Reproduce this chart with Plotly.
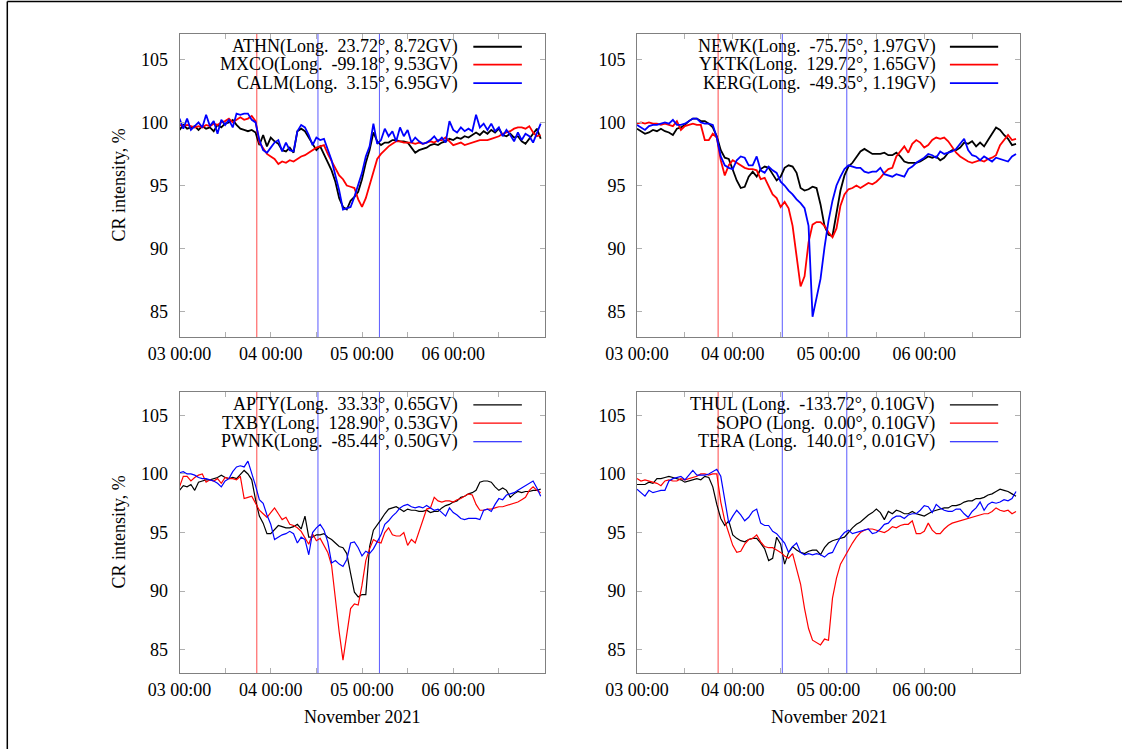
import pandas as pd
import plotly.graph_objects as go

# ---------------- data (hourly, 2021-11-03 00:00 ... 2021-11-06 23:00) ----------------
times = pd.date_range("2021-11-03 00:00", periods=96, freq="h")

athn = [99.4, 99.8, 99.5, 99.6, 99.7, 99.4, 99.7, 99.5, 99.6, 99.3, 99.8, 99.6,
        99.9, 100.0, 100.2, 99.8, 99.5, 99.4, 99.3, 99.4, 99.2, 98.2, 99.0, 98.1,
        98.8, 98.5, 98.3, 97.8, 97.7, 98.0, 97.6, 99.3, 99.5, 99.3, 98.8, 98.4,
        97.8, 98.1, 97.5, 96.9, 96.2, 95.3, 94.0, 93.3, 93.1, 93.8, 94.1, 94.5,
        95.5, 96.8, 97.8, 99.2, 98.5, 98.2, 98.4, 98.4, 98.6, 98.6, 98.5, 98.5,
        98.4, 98.0, 97.6, 97.8, 97.9, 98.0, 98.2, 98.3, 98.2, 98.4, 98.5, 98.7,
        98.6, 98.8, 98.7, 98.9, 98.8, 99.0, 99.2, 99.0, 99.3, 99.1, 99.4, 99.2,
        99.5, 99.0, 98.9, 99.1, 98.8, 98.9, 98.5, 98.3, 98.7, 99.1, 99.5, 98.7]
mxco = [99.8, 99.7, 99.8, 99.7, 99.6, 99.7, 99.6, 99.8, 99.7, 99.9, 99.8, 100.0,
        100.1, 100.3, 100.0, 100.2, 100.4, 100.2, 100.3, 100.5, 100.1, 98.4, 97.9, 97.5,
        97.3, 97.1, 96.7, 96.9, 96.8, 97.0, 96.9, 97.1, 97.3, 97.4, 97.6, 97.8,
        98.0, 98.1, 98.2, 97.5, 96.9, 96.3, 95.8, 95.5, 95.0, 94.9, 94.8, 93.9,
        93.3, 94.0, 95.1, 96.2, 97.1, 97.5, 97.8, 98.1, 98.3, 98.5, 98.5, 98.4,
        98.4, 98.4, 98.3, 98.4, 98.3, 98.4, 98.5, 98.4, 98.6, 98.6, 98.8, 98.5,
        98.2, 98.3, 98.4, 98.2, 98.3, 98.4, 98.5, 98.6, 98.6, 98.6, 98.7, 98.8,
        98.9, 99.1, 99.2, 99.3, 99.5, 99.6, 99.6, 99.5, 99.7, 99.2, 98.9, 99.0]
calm = [100.3, 99.5, 100.3, 99.4, 99.7, 100.0, 99.6, 100.6, 99.7, 100.1, 99.1, 100.2,
        99.8, 100.2, 99.6, 100.7, 100.6, 100.7, 100.7, 100.2, 100.0, 98.6, 97.8, 97.6,
        98.0, 98.4, 98.6, 97.7, 98.4, 97.8, 97.7, 99.3, 99.8, 99.6, 99.0, 98.2,
        98.8, 98.6, 98.7, 97.9, 97.0, 95.8, 94.6, 93.1, 93.2, 93.3, 94.1, 95.0,
        96.0, 97.3, 98.1, 99.9, 98.3, 98.6, 99.5, 98.9, 99.3, 98.5, 99.6, 98.9,
        99.4, 98.4, 98.8, 98.5, 98.3, 98.4, 98.6, 98.9, 98.5, 98.8, 98.4, 100.1,
        99.4, 99.2, 99.6, 99.3, 99.5, 99.3, 100.6, 99.6, 99.9, 99.4, 99.9, 99.3,
        99.6, 98.9, 99.4, 99.0, 98.5, 99.2, 98.6, 99.1, 98.9, 98.4, 99.1, 99.9]

newk = [99.5, 99.3, 99.1, 99.2, 99.4, 99.3, 99.5, 99.3, 99.2, 99.0, 99.5, 99.6,
        99.8, 100.1, 100.3, 100.3, 100.1, 100.1, 99.9, 99.6, 98.9, 97.8, 97.2, 97.1,
        96.3, 95.4, 94.8, 94.9, 95.7, 96.1, 95.7, 96.3, 96.5, 96.4, 95.9, 95.4,
        95.7, 96.4, 96.6, 96.5, 96.0, 94.8, 94.6, 94.7, 94.9, 94.8, 93.5, 91.8,
        91.1, 91.0, 92.8, 94.6, 95.8, 96.5, 96.8, 97.3, 97.7, 97.9, 97.7, 97.5,
        97.5, 97.5, 97.6, 97.4, 97.4, 97.6, 97.3, 96.9, 96.8, 96.8, 96.8, 96.9,
        97.1, 97.3, 97.2, 97.3, 97.0, 97.2, 97.6, 97.8, 97.8, 98.0, 98.4, 98.3,
        98.5, 98.1, 98.4, 98.1, 98.6, 99.1, 99.6, 99.4, 99.0, 98.7, 98.2, 98.3]
yktk = [99.9, 100.0, 99.9, 100.0, 99.9, 99.9, 99.8, 99.9, 99.8, 99.7, 100.1, 99.4,
        99.7, 99.8, 99.9, 99.8, 99.8, 98.6, 98.6, 99.1, 98.8, 97.0, 95.8, 96.6,
        97.0, 96.8, 96.6, 96.4, 96.3, 96.3, 96.2, 95.5, 95.6, 94.9, 94.3, 94.0,
        93.3, 93.7, 93.2, 91.8, 89.5, 87.0, 87.8, 90.5, 91.9, 92.1, 92.1, 91.8,
        91.3, 90.9, 91.6, 93.4, 94.3, 94.7, 94.8, 95.0, 94.8, 95.0, 95.2, 95.1,
        95.3, 95.6, 96.0, 96.3, 96.4, 97.3, 97.7, 98.1, 97.6, 98.3, 98.6, 98.4,
        98.0, 98.2, 98.6, 98.8, 98.7, 98.8, 98.5, 98.0, 97.6, 97.3, 97.1, 96.9,
        96.8, 96.9, 97.0, 96.9, 97.1, 97.2, 97.4, 98.2, 98.6, 99.0, 98.6, 98.7]
kerg = [99.8, 99.6, 99.4, 99.7, 99.8, 99.8, 99.9, 100.0, 99.9, 100.2, 99.8, 99.8,
        99.9, 100.1, 100.3, 100.3, 100.0, 99.9, 99.9, 99.8, 98.8, 97.3, 96.6, 96.4,
        96.3, 97.0, 97.3, 97.2, 96.6, 96.6, 97.3, 96.2, 96.0, 96.5, 96.2, 96.0,
        95.3, 95.0, 94.6, 94.3, 93.9, 93.6, 93.2, 91.8, 84.6, 86.1, 87.6, 90.1,
        92.2, 93.8, 95.0, 95.7, 96.3, 96.6, 96.5, 96.4, 96.4, 96.1, 96.0, 96.1,
        96.1, 96.4, 95.9, 95.8, 95.7, 95.9, 95.8, 95.7, 96.3, 96.5, 96.8, 97.0,
        97.2, 97.5, 97.4, 97.2, 97.7, 97.5, 97.6, 97.7, 97.9, 98.3, 98.7, 97.8,
        97.4, 97.3, 97.0, 97.3, 97.1, 96.9, 97.2, 97.1, 97.0, 96.9, 97.3, 97.5]

apty = [98.6, 99.0, 98.9, 99.1, 98.6, 99.3, 99.4, 99.5, 99.5, 99.6, 99.7, 99.9,
        99.7, 99.6, 99.7, 99.6, 100.0, 100.3, 100.0, 99.5, 97.8, 96.4, 95.8, 94.9,
        94.9, 95.3, 95.6, 95.5, 95.4, 95.4, 95.5, 95.7, 95.3, 96.4, 94.6, 94.6,
        94.8, 94.8, 94.9, 94.6, 94.4, 94.1, 93.8, 93.7, 93.2, 91.5, 89.9, 89.5,
        89.7, 89.7, 93.8, 95.2, 95.6, 96.1, 96.6, 97.0, 97.1, 97.2, 97.0, 96.8,
        97.0, 96.9, 96.9, 96.8, 96.8, 96.9, 96.7, 96.8, 96.8, 97.1, 97.3, 97.4,
        97.6, 97.7, 98.0, 98.1, 98.3, 98.4, 98.6, 99.3, 99.4, 99.4, 99.3, 98.9,
        98.6, 98.8, 98.6, 98.0, 98.3, 98.5, 98.4, 98.5, 98.5, 98.6, 98.6, 98.7]
txby = [98.9, 99.8, 99.8, 99.4, 99.7, 99.9, 100.0, 99.3, 99.5, 99.4, 99.6, 99.2,
        99.7, 99.6, 99.6, 99.5, 99.8, 97.9, 98.0, 98.1, 97.5, 96.9, 96.6, 96.3,
        96.7, 97.1, 96.6, 96.1, 96.3, 95.7, 95.6, 95.4, 95.1, 94.5, 94.0, 94.9,
        94.3, 94.5, 93.9, 93.3, 92.2, 89.3, 86.5, 84.1, 86.5, 88.5, 88.9, 88.8,
        90.5, 92.6, 93.6, 94.4, 94.2, 94.1, 95.0, 95.4, 94.8, 94.7, 94.7, 95.0,
        93.9, 94.4, 94.1, 95.1, 96.0, 97.0, 97.1, 98.0, 97.7, 97.6, 97.7, 97.7,
        97.6, 97.8, 97.9, 98.1, 98.3, 98.2, 97.4, 96.9, 96.9, 97.0, 97.0, 97.1,
        97.2, 97.2, 97.3, 97.4, 97.5, 97.6, 97.8, 98.0, 98.6, 98.9, 98.6, 98.4]
pwnk = [100.1, 100.2, 100.0, 100.0, 99.9, 99.7, 99.6, 99.6, 99.5, 99.4, 99.2, 98.9,
        99.4, 99.6, 100.2, 100.6, 100.7, 100.6, 101.1, 100.1, 99.0, 97.8, 97.5, 96.5,
        95.7, 94.4, 94.6, 94.8, 94.9, 95.1, 94.9, 94.1, 94.6, 94.4, 93.1, 95.0,
        95.4, 95.7, 95.2, 94.2, 92.4, 92.6, 92.3, 92.1, 92.7, 94.1, 94.2, 93.7,
        93.0, 93.4, 93.2, 93.6, 94.2, 94.8, 95.7, 96.0, 96.4, 96.7, 97.1, 97.3,
        97.4, 97.2, 97.1, 97.2, 97.1, 97.3, 97.1, 96.9, 97.0, 96.7, 96.4, 97.1,
        96.7, 96.5, 96.2, 96.1, 96.2, 96.2, 96.2, 96.1, 96.9, 97.0, 96.8, 97.4,
        97.9, 97.8, 98.2, 98.3, 98.4, 98.6, 98.8, 99.0, 99.2, 99.4, 98.8, 98.1]

thul = [99.1, 99.1, 99.1, 99.3, 99.2, 99.6, 99.6, 99.7, 99.8, 99.7, 99.6, 99.5,
        99.3, 99.4, 99.5, 99.6, 99.5, 99.8, 99.7, 98.9, 97.4, 96.2, 95.6, 96.0,
        94.8, 94.5, 94.3, 94.2, 94.4, 94.5, 94.5, 94.1, 93.6, 92.6, 92.8, 94.6,
        94.0, 92.3, 93.3, 93.8, 93.5, 93.3, 93.2, 93.4, 93.5, 93.5, 93.1, 93.7,
        94.1, 94.3, 94.4, 94.5, 94.6, 95.0, 95.4, 95.7, 95.9, 96.2, 96.5, 96.7,
        97.0, 96.7, 96.1, 96.8, 96.6, 96.9, 96.8, 96.6, 96.6, 96.8, 96.6, 96.5,
        96.4, 96.6, 96.8, 96.9, 97.0, 97.1, 97.1, 97.3, 97.3, 97.4, 97.6, 97.7,
        97.7, 97.9, 97.9, 98.0, 98.2, 98.3, 98.5, 98.7, 98.6, 98.5, 98.3, 98.1]
sopo = [99.6, 99.4, 99.5, 99.4, 99.3, 99.2, 99.0, 99.4, 99.5, 99.4, 99.4, 99.6,
        99.5, 99.6, 99.7, 99.8, 100.0, 100.0, 99.9, 100.0, 100.0, 97.6, 96.0, 94.9,
        93.9, 93.3, 93.4, 94.0, 94.4, 94.5, 94.8, 94.2, 93.8, 93.7, 93.7, 93.5,
        93.3, 93.0, 92.8, 93.2, 92.0, 90.6, 88.5, 86.8, 85.8, 85.6, 85.4, 85.9,
        85.8, 89.4, 91.1, 92.3, 92.9, 93.6, 94.1, 94.6, 95.0, 95.2, 95.3, 95.3,
        95.2, 95.1, 95.0, 95.2, 95.5, 95.4, 95.6, 95.7, 95.7, 96.0, 94.9, 94.9,
        95.1, 95.8, 95.2, 94.9, 94.9, 95.3, 95.6, 95.8, 95.9, 96.0, 96.1, 96.2,
        96.3, 96.4, 96.5, 96.6, 96.6, 96.8, 97.1, 96.9, 96.8, 96.9, 96.6, 96.8]
tera = [98.7, 98.4, 98.1, 98.6, 98.4, 98.5, 98.6, 98.6, 99.4, 99.6, 99.7, 99.8,
        99.5, 99.9, 100.3, 99.9, 99.9, 99.9, 100.0, 100.2, 100.4, 99.8, 97.9, 95.8,
        96.4, 96.9, 96.5, 96.0, 96.3, 96.8, 97.0, 95.8, 95.6, 95.6, 95.1, 94.9,
        94.5, 94.1, 93.3, 93.8, 94.1, 93.3, 93.1, 93.2, 93.1, 93.2, 93.1, 92.9,
        93.2, 93.3, 94.0, 94.6, 95.0, 95.2, 94.9, 95.0, 95.1, 95.2, 95.3, 94.9,
        95.0, 95.3, 95.7, 95.8, 96.2, 96.4, 96.4, 96.2, 96.5, 96.6, 96.6, 96.9,
        97.3, 97.2, 96.7, 97.4, 97.1, 96.9, 96.8, 96.8, 97.0, 97.0, 96.6, 96.3,
        96.8, 97.1, 97.6, 96.9, 97.4, 97.6, 97.5, 97.6, 97.8, 97.7, 97.9, 98.5]

labels_tl = ["ATHN(Long.\u00a0 23.72°, 8.72GV)", "MXCO(Long.\u00a0 -99.18°, 9.53GV)", "CALM(Long.\u00a0 3.15°, 6.95GV)"]
labels_tr = ["NEWK(Long.\u00a0 -75.75°, 1.97GV)", "YKTK(Long.\u00a0 129.72°, 1.65GV)", "KERG(Long.\u00a0 -49.35°, 1.19GV)"]
labels_bl = ["APTY(Long.\u00a0 33.33°, 0.65GV)", "TXBY(Long.\u00a0 128.90°, 0.53GV)", "PWNK(Long.\u00a0 -85.44°, 0.50GV)"]
labels_br = ["THUL (Long.\u00a0 -133.72°, 0.10GV)", "SOPO (Long.\u00a0 0.00°, 0.10GV)", "TERA (Long.\u00a0 140.01°, 0.01GV)"]

event_red = ["2021-11-03 20:20"]
event_blue = ["2021-11-04 12:25", "2021-11-05 04:35"]

tick_vals = ["2021-11-03", "2021-11-04", "2021-11-05", "2021-11-06"]
tick_text = ["03 00:00", "04 00:00", "05 00:00", "06 00:00"]
minor_vals = ["2021-11-03 12:00", "2021-11-04 12:00", "2021-11-05 12:00", "2021-11-06 12:00"]
x_range = ["2021-11-03 00:00", "2021-11-07 00:00"]
y_range = [83, 107]
y_ticks = [85, 90, 95, 100, 105]

colors = ["#000000", "#ff0000", "#0000ff"]
FONT = "Liberation Serif"
W, H = 1122, 749

# ---------------- layout geometry (pixels -> paper) ----------------
xdom_left = [179.5 / W, 544.5 / W]
xdom_right = [637 / W, 1020 / W]
ydom_top = [1 - 337 / H, 1 - 34 / H]
ydom_bot = [1 - 673 / H, 1 - 392 / H]

panels = [
    dict(series=[athn, mxco, calm], labels=labels_tl, xd=xdom_left, yd=ydom_top, lw=1.8,
         txt_x=0.768, smp=(0.805, 0.938), rows=(0.958, 0.899, 0.838)),
    dict(series=[newk, yktk, kerg], labels=labels_tr, xd=xdom_right, yd=ydom_top, lw=1.8,
         txt_x=0.787, smp=(0.817, 0.943), rows=(0.958, 0.899, 0.838)),
    dict(series=[apty, txby, pwnk], labels=labels_bl, xd=xdom_left, yd=ydom_bot, lw=1.2,
         txt_x=0.768, smp=(0.805, 0.938), rows=(0.954, 0.889, 0.823)),
    dict(series=[thul, sopo, tera], labels=labels_br, xd=xdom_right, yd=ydom_bot, lw=1.2,
         txt_x=0.782, smp=(0.817, 0.943), rows=(0.954, 0.889, 0.823)),
]

fig = go.Figure()
shapes = []
annotations = []
layout_axes = {}

for i, p in enumerate(panels, start=1):
    sfx = "" if i == 1 else str(i)
    xa, ya = "x" + sfx, "y" + sfx
    # event lines (drawn below the data)
    for t in event_red:
        shapes.append(dict(type="line", xref=xa, yref=ya + " domain", x0=t, x1=t, y0=0, y1=1,
                           layer="below", line=dict(color="#ff4a4a", width=1)))
    for t in event_blue:
        shapes.append(dict(type="line", xref=xa, yref=ya + " domain", x0=t, x1=t, y0=0, y1=1,
                           layer="below", line=dict(color="#5a5aff", width=1)))
    for vals, col in zip(p["series"], colors):
        fig.add_trace(go.Scatter(x=times, y=vals, mode="lines", xaxis=xa, yaxis=ya,
                                 line=dict(color=col, width=p["lw"]), showlegend=False,
                                 hoverinfo="skip"))
    common = dict(showline=True, linecolor="#808080", linewidth=1, mirror="ticks",
                  ticks="inside", ticklen=5, tickwidth=1, tickcolor="#b0b0b0",
                  showgrid=False, zeroline=False, automargin=False,
                  tickfont=dict(family=FONT, size=18, color="black"))
    layout_axes["xaxis" + sfx] = dict(common, domain=p["xd"], anchor=ya, type="date",
                                       range=x_range, tickmode="array", tickvals=tick_vals,
                                       ticktext=tick_text, ticklabelstandoff=0,
                                       minor=dict(ticks="inside", ticklen=5, tickcolor="#b0b0b0",
                                                  tickmode="array", tickvals=minor_vals,
                                                  showgrid=False))
    layout_axes["yaxis" + sfx] = dict(common, domain=p["yd"], anchor=xa, range=y_range,
                                       tickmode="array", tickvals=y_ticks, ticklabelstandoff=7)
    # key (gnuplot style: text right-aligned, sample on the right)
    for lab, col, yr in zip(p["labels"], colors, p["rows"]):
        annotations.append(dict(text=lab, xref=xa + " domain", yref=ya + " domain",
                                x=p["txt_x"], y=yr, xanchor="right", yanchor="middle",
                                showarrow=False, font=dict(family=FONT, size=18, color="black")))
        shapes.append(dict(type="line", xref=xa + " domain", yref=ya + " domain",
                           x0=p["smp"][0], x1=p["smp"][1], y0=yr, y1=yr,
                           line=dict(color=col, width=p["lw"])))

# axis titles
for yc in [(ydom_top[0] + ydom_top[1]) / 2, (ydom_bot[0] + ydom_bot[1]) / 2]:
    annotations.append(dict(text="CR intensity, %", xref="paper", yref="paper", x=118 / W, y=yc,
                            textangle=-90, showarrow=False, xanchor="center", yanchor="middle",
                            font=dict(family=FONT, size=18, color="black")))
for xd in [xdom_left, xdom_right]:
    annotations.append(dict(text="November 2021", xref="paper", yref="paper",
                            x=(xd[0] + xd[1]) / 2, y=1 - 717 / H, showarrow=False,
                            xanchor="center", yanchor="middle",
                            font=dict(family=FONT, size=18, color="black")))

# outer frame (left and top edges visible in the reference)
shapes.append(dict(type="line", xref="paper", yref="paper", x0=7.3 / W, x1=7.3 / W, y0=0,
                   y1=1 - 1.5 / H, line=dict(color="black", width=1.5)))
shapes.append(dict(type="line", xref="paper", yref="paper", x0=7.3 / W, x1=1, y0=1 - 1.5 / H,
                   y1=1 - 1.5 / H, line=dict(color="black", width=1.5)))

fig.update_layout(template=None, width=W, height=H, autosize=False,
                  margin=dict(l=0, r=0, t=0, b=0, pad=0),
                  paper_bgcolor="white", plot_bgcolor="white", shapes=shapes,
                  annotations=annotations, font=dict(family=FONT, color="black"),
                  showlegend=False, **layout_axes)

fig.write_html("out.html", config={"displayModeBar": False},
               post_script="document.body.style.margin='0px';document.body.style.overflow='hidden';")
